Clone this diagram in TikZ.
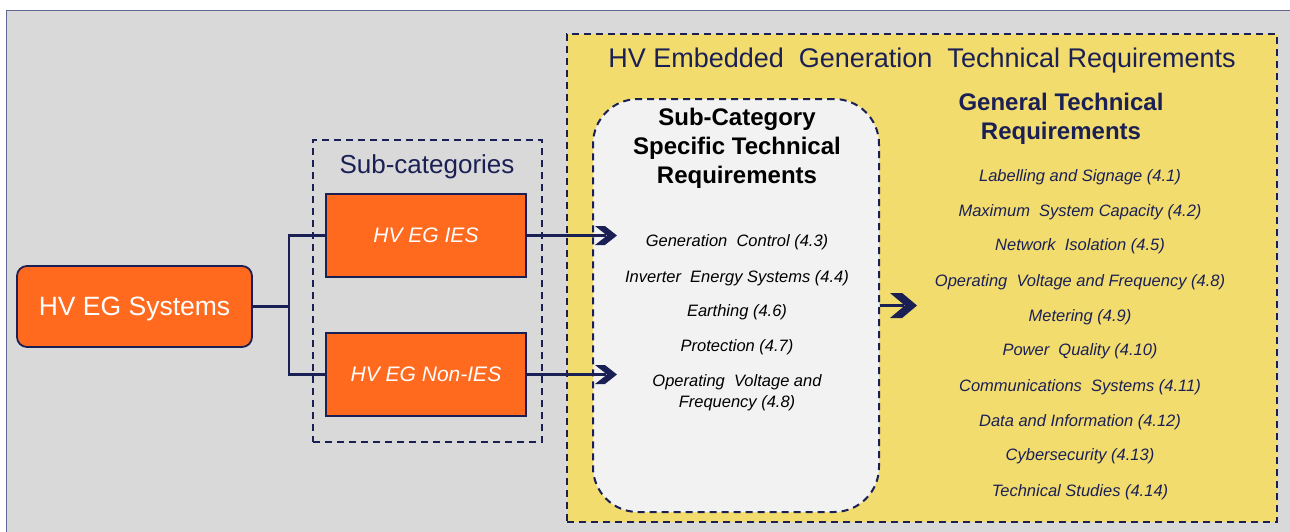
\documentclass[tikz,border=0pt]{standalone}
\usepackage{fontspec}
\setmainfont{Liberation Sans}
\usetikzlibrary{arrows.meta}

\definecolor{egnavy}{RGB}{27,32,84}
\definecolor{egorange}{RGB}{255,106,31}
\definecolor{eggray}{RGB}{217,217,217}
\definecolor{egyellow}{RGB}{242,220,110}
\definecolor{egwhite}{RGB}{242,242,242}
\definecolor{egframe}{RGB}{95,105,145}

% filled chevron tip
\pgfdeclarearrow{
  name = Chevron,
  parameters = {\the\pgfarrowlength,\the\pgfarrowwidth},
  setup code = {
    \pgfarrowssettipend{0pt}
    \pgfarrowssetlineend{-.5\pgfarrowlength}
    \pgfarrowssetvisualbackend{-\pgfarrowlength}
    \pgfarrowssetbackend{-\pgfarrowlength}
    \pgfarrowshullpoint{0pt}{0pt}
    \pgfarrowsupperhullpoint{-\pgfarrowlength}{.5\pgfarrowwidth}
    \pgfarrowssavethe\pgfarrowlength
    \pgfarrowssavethe\pgfarrowwidth
  },
  drawing code = {
    \pgfpathmoveto{\pgfqpoint{0pt}{0pt}}
    \pgfpathlineto{\pgfqpoint{-.55\pgfarrowlength}{.5\pgfarrowwidth}}
    \pgfpathlineto{\pgfqpoint{-\pgfarrowlength}{.5\pgfarrowwidth}}
    \pgfpathlineto{\pgfqpoint{-.45\pgfarrowlength}{0pt}}
    \pgfpathlineto{\pgfqpoint{-\pgfarrowlength}{-.5\pgfarrowwidth}}
    \pgfpathlineto{\pgfqpoint{-.55\pgfarrowlength}{-.5\pgfarrowwidth}}
    \pgfpathclose
    \pgfusepathqfill
  },
  defaults = {length=22pt,width=19pt}
}

\tikzset{
  sysbox/.style={draw=egnavy,line width=1.8pt,fill=egorange,rounded corners=10pt,text depth=0pt,
    text=white,font=\fontsize{26.5}{30}\selectfont,minimum width=235pt,minimum height=81pt},
  catbox/.style={draw=egnavy,line width=1.8pt,fill=egorange,text depth=0pt,
    text=white,font=\fontsize{21}{25}\selectfont\itshape,minimum width=200pt,minimum height=83pt},
  dashbox/.style={draw=egnavy,line width=2pt,dash pattern=on 7pt off 5pt},
  heading/.style={align=center,font=\fontsize{24}{29}\selectfont\bfseries},
  item/.style={align=center,font=\fontsize{16.5}{21}\selectfont\itshape},
  conn/.style={draw=egnavy,line width=2.2pt},
  smallchev/.style={conn,-{Chevron[length=22pt,width=19pt]}},
  bigchev/.style={conn,-{Chevron[length=27pt,width=25pt]}}
}

\begin{document}
\begin{tikzpicture}[x=1pt,y=-1pt]
    \useasboundingbox (0,0) rectangle (1290,531);
    \path[fill=eggray,draw=egframe,line width=1pt] (6,10) rectangle (1310,545);

    % requirements area
    \path (922,278) node [dashbox,fill=egyellow,minimum width=710pt,minimum height=488pt] (reqs) {};
    \path (922,61) node [text=egnavy,font=\fontsize{27}{30}\selectfont] (title)
	{HV Embedded\ \ Generation\ \ Technical Requirements};
    \path (736,305.5) node [dashbox,fill=egwhite,rounded corners=45pt,
	minimum width=286pt,minimum height=413pt] (specific) {};
    \path (737,148) node [heading] (spechead) {Sub-Category\\Specific Technical\\Requirements};
    \path (1061,119) node [heading,text=egnavy] (genhead) {General Technical\\Requirements};

    \foreach \y/\txt [count=\i] in {242/Generation\ \ Control (4.3),
	278/Inverter\ \ Energy Systems (4.4),312/Earthing (4.6),347/Protection (4.7),
	393/Operating\ \ Voltage and\\Frequency (4.8)}
	\path (737,\y) node [item] (spec\i) {\txt};

    \foreach \y/\txt [count=\i] in {177/Labelling and Signage (4.1),
	212/Maximum\ \ System Capacity (4.2),246/Network\ \ Isolation (4.5),
	282/Operating\ \ Voltage and Frequency (4.8),317/Metering (4.9),
	351/Power\ \ Quality (4.10),387/Communications\ \ Systems (4.11),
	422/Data and Information (4.12),456/Cybersecurity (4.13),
	492/Technical Studies (4.14)}
	\path (1080,\y) node [item,text=egnavy] (gen\i) {\txt};

    % sub-categories
    \path (427.5,291) node [dashbox,minimum width=229pt,minimum height=302pt] (subcats) {};
    \path (427,167) node [text=egnavy,font=\fontsize{26}{30}\selectfont] (subhead) {Sub-categories};
    \path (134.5,306.5) node [sysbox] (sys) {HV EG Systems};
    \path (426,235.5) node [catbox] (ies) {HV EG IES};
    \path (426,374.5) node [catbox] (nonies) {HV EG Non-IES};

    \coordinate (split) at (289,306.5);
    \coordinate (iesin) at (617,235.5);
    \coordinate (noniesin) at (617,374.5);
    \coordinate (genin) at (917,305.5);

    \draw [conn] (sys) -- (split) |- (ies);
    \draw [conn] (split) |- (nonies);
    \draw [smallchev] (ies) -- (iesin);
    \draw [smallchev] (nonies) -- (noniesin);
    \draw [bigchev] (specific) -- (genin);
\end{tikzpicture}
\end{document}
